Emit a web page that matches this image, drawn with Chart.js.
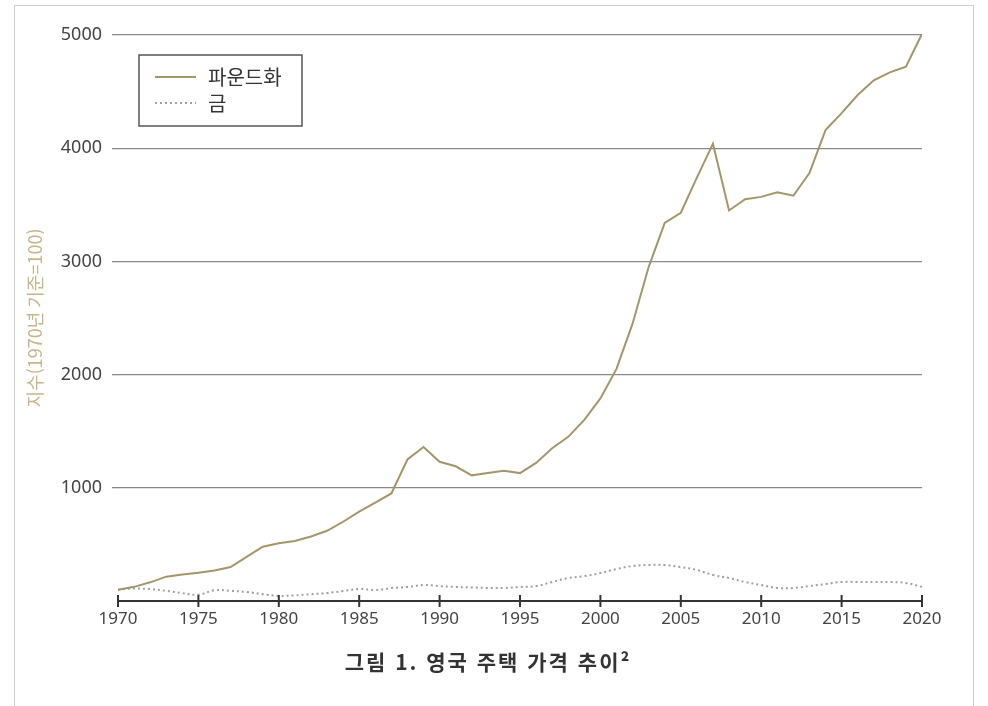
<!DOCTYPE html>
<html lang="ko">
<head>
    <meta charset="UTF-8">
    <title>영국 주택 가격 추이</title>
    <script src="https://cdn.jsdelivr.net/npm/chart.js"></script>
    <style>
        html, body { margin: 0; padding: 0; background: #fff; }
        .frame { position: absolute; left: 14px; top: 5px; width: 960px; height: 710px; border: 1px solid #cfcfcf; box-sizing: border-box; }
        .wrap { position: absolute; left: 0; top: 0; width: 988px; height: 706px; }
        .caption { position: absolute; left: 0; width: 976px; top: 646px; text-align: center;
                   font-family: 'Noto Sans CJK KR', sans-serif; font-weight: bold; font-size: 21px;
                   letter-spacing: 2px; color: #333; }
    </style>
</head>
<body>
    <div class="frame"></div>
    <div class="wrap"><canvas id="houseChart" width="988" height="706"></canvas></div>
    <div class="caption">그림 1. 영국 주택 가격 추이²</div>

    <script>
        const years = [1970, 1971, 1972, 1973, 1974, 1975, 1976, 1977, 1978, 1979,
                       1980, 1981, 1982, 1983, 1984, 1985, 1986, 1987, 1988, 1989,
                       1990, 1991, 1992, 1993, 1994, 1995, 1996, 1997, 1998, 1999,
                       2000, 2001, 2002, 2003, 2004, 2005, 2006, 2007, 2008, 2009,
                       2010, 2011, 2012, 2013, 2014, 2015, 2016, 2017, 2018, 2019, 2020];

        // 파운드화 기준 주택 가격 지수 (1970=100)
        const poundIndex = [100, 125, 165, 215, 235, 250, 270, 300, 390, 480,
                            510, 530, 570, 620, 700, 790, 870, 950, 1250, 1360,
                            1230, 1190, 1110, 1130, 1150, 1130, 1220, 1350, 1450, 1600,
                            1790, 2050, 2450, 2950, 3340, 3430, 3740, 4040, 3450, 3550,
                            3570, 3610, 3580, 3780, 4160, 4310, 4470, 4600, 4670, 4720, 5010];

        // 금 기준 주택 가격 지수
        const goldIndex = [100, 110, 105, 90, 70, 55, 95, 90, 80, 60,
                           45, 50, 60, 70, 88, 106, 97, 115, 124, 141,
                           132, 124, 120, 115, 115, 124, 132, 168, 203, 220,
                           247, 282, 309, 318, 318, 300, 274, 230, 203, 168,
                           141, 115, 115, 132, 150, 168, 168, 168, 168, 159, 125];

        const seriesNames = ['파운드화', '금'];
        const yTicks = [1000, 2000, 3000, 4000, 5000];
        const xTicks = [1970, 1975, 1980, 1985, 1990, 1995, 2000, 2005, 2010, 2015, 2020];

        const toPoints = vals => years.map((y, i) => ({ x: y, y: vals[i] }));

        // legend box drawn inside the plot, top-left
        const boxLegend = {
            id: 'boxLegend',
            afterDraw(chart) {
                const ctx = chart.ctx;
                ctx.save();
                ctx.fillStyle = '#fff';
                ctx.fillRect(139, 55, 163, 71);
                ctx.strokeStyle = '#555';
                ctx.lineWidth = 1.5;
                ctx.strokeRect(139, 55, 163, 71);
                chart.data.datasets.forEach((ds, i) => {
                    const y = 77 + i * 26;
                    ctx.beginPath();
                    ctx.strokeStyle = ds.borderColor;
                    ctx.lineWidth = 2;
                    ctx.setLineDash(ds.borderDash || []);
                    ctx.moveTo(155, y);
                    ctx.lineTo(196, y);
                    ctx.stroke();
                    ctx.setLineDash([]);
                    ctx.fillStyle = '#333';
                    ctx.font = '20px "Noto Sans CJK KR"';
                    ctx.textBaseline = 'middle';
                    ctx.fillText(ds.label, 208, y);
                });
                ctx.restore();
            }
        };

        // tick marks crossing the x axis line
        const crossTicks = {
            id: 'crossTicks',
            afterDraw(chart) {
                const xs = chart.scales.x, ys = chart.scales.y;
                const ctx = chart.ctx;
                const base = ys.getPixelForValue(0);
                ctx.save();
                ctx.strokeStyle = '#333';
                ctx.lineWidth = 2;
                xs.ticks.forEach(t => {
                    const px = xs.getPixelForValue(t.value);
                    ctx.beginPath();
                    ctx.moveTo(px, base - 6);
                    ctx.lineTo(px, base + 6);
                    ctx.stroke();
                });
                ctx.restore();
            }
        };

        new Chart(document.getElementById('houseChart').getContext('2d'), {
            type: 'line',
            data: {
                datasets: [{
                    label: seriesNames[0],
                    data: toPoints(poundIndex),
                    borderColor: '#a39669',
                    borderWidth: 2,
                    pointRadius: 0,
                    tension: 0
                }, {
                    label: seriesNames[1],
                    data: toPoints(goldIndex),
                    borderColor: '#a0a0a0',
                    borderWidth: 2,
                    borderDash: [2, 3],
                    pointRadius: 0,
                    tension: 0.4
                }]
            },
            options: {
                responsive: false,
                animation: false,
                layout: { padding: { top: 35, right: 66, bottom: 0, left: 0 } },
                plugins: {
                    legend: { display: false },
                    tooltip: { enabled: false }
                },
                scales: {
                    x: {
                        type: 'linear',
                        min: 1970,
                        max: 2020,
                        afterBuildTicks: s => { s.ticks = xTicks.map(v => ({ value: v })); },
                        afterFit: s => { s.height = 105; },
                        grid: { drawOnChartArea: false, drawTicks: false, color: 'transparent' },
                        border: { display: true, color: '#333', width: 2 },
                        ticks: {
                            padding: 8,
                            color: '#444',
                            font: { family: 'Noto Sans', size: 17 },
                            callback: v => String(v)
                        }
                    },
                    y: {
                        min: 0,
                        max: 5000,
                        afterBuildTicks: s => { s.ticks = [0].concat(yTicks).map(v => ({ value: v })); },
                        afterFit: s => { s.width = 118; },
                        grid: {
                            color: c => c.tick && c.tick.value === 0 ? 'transparent' : '#8a8a8a',
                            lineWidth: 1.3,
                            tickLength: 6
                        },
                        border: { display: false },
                        ticks: {
                            padding: 10,
                            color: '#444',
                            font: { family: 'Noto Sans', size: 18 },
                            callback: v => v === 0 ? '' : String(v)
                        },
                        title: {
                            display: true,
                            text: '지수(1970년 기준=100)',
                            color: '#c6b68a',
                            font: { family: 'Noto Sans CJK KR', size: 18 },
                            padding: { top: 24, bottom: 0 }
                        }
                    }
                }
            },
            plugins: [boxLegend, crossTicks]
        });
    </script>
</body>
</html>
